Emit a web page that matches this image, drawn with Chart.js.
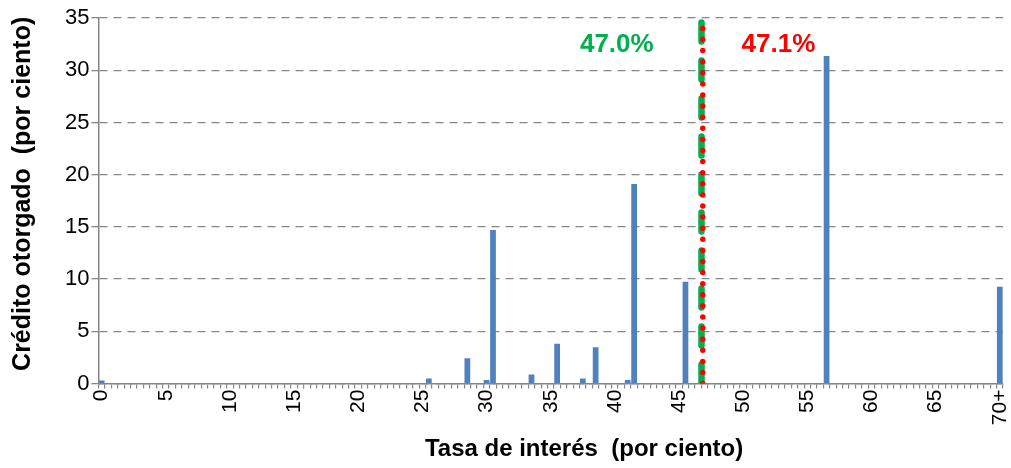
<!DOCTYPE html>
<html lang="es">
  <head>
    <meta charset="UTF-8" />
    <title>Crédito otorgado por tasa de interés</title>
    <script src="https://cdn.jsdelivr.net/npm/chart.js@4/dist/chart.umd.min.js"></script>
    <style>
      body { margin: 0; background: #fff; }
      #wrap { width: 1011px; height: 468px; }
    </style>
  </head>
  <body>
    <div id="wrap"><canvas id="rateChart"></canvas></div>
  </body>
  <script>
    // tasa de interés en pasos de 0.5 puntos, la última es "70+"
    const rates = [];
    for (let r = 0; r <= 70; r += 0.5) rates.push(r);

    const tickLabels = ["0", "5", "10", "15", "20", "25", "30", "35", "40", "45", "50", "55", "60", "65", "70+"];

    // crédito otorgado (por ciento), una fila por cada 5 puntos de tasa
    const credit = [
      0.3, 0.06, 0.06, 0.06, 0.06, 0.06, 0.06, 0.06, 0.06, 0.06, // 0 - 4.5
      0, 0, 0.06, 0.06, 0.06, 0.06, 0, 0, 0, 0,                // 5 - 9.5
      0, 0.06, 0.06, 0.06, 0.06, 0, 0, 0, 0, 0,                // 10 - 14.5
      0, 0, 0, 0, 0, 0, 0, 0, 0, 0,                            // 15 - 19.5
      0, 0, 0, 0, 0, 0, 0, 0, 0, 0,                            // 20 - 24.5
      0, 0.48, 0, 0, 0, 0, 0, 2.42, 0, 0,                      // 25 - 29.5
      0.35, 14.7, 0, 0, 0, 0, 0, 0.86, 0, 0,                   // 30 - 34.5
      0, 3.82, 0, 0, 0, 0.48, 0, 3.47, 0, 0,                   // 35 - 39.5
      0, 0, 0.35, 19.1, 0, 0, 0, 0, 0, 0,                      // 40 - 44.5
      0, 9.75, 0, 0, 0, 0, 0, 0, 0, 0,                         // 45 - 49.5
      0, 0, 0, 0, 0, 0, 0, 0, 0, 0,                            // 50 - 54.5
      0, 0, 0, 31.35, 0, 0, 0, 0, 0, 0,                        // 55 - 59.5
      0, 0, 0, 0, 0, 0, 0, 0, 0, 0,                            // 60 - 64.5
      0, 0, 0, 0, 0, 0, 0, 0, 0, 0,                            // 65 - 69.5
      9.27                                                     // 70+
    ];

    // tasas promedio marcadas con líneas verticales
    const avgRates = [47.0, 47.1];
    const avgLabels = ["47.0%", "47.1%"];
    const avgColors = ["#00B050", "#FF0000"];

    const FONT = "'Liberation Sans', Arial, sans-serif";
    const GRAY = "#868686";

    const avgText = {
      id: "avgText",
      afterDatasetsDraw(chart) {
        const ctx = chart.ctx;
        const x2 = chart.scales.x2;
        const y = chart.scales.y;
        const shift = [-6.6, 5.9];
        ctx.save();
        ctx.font = "bold 26px " + FONT;
        ctx.textAlign = "center";
        ctx.textBaseline = "middle";
        avgRates.forEach((r, i) => {
          ctx.fillStyle = avgColors[i];
          ctx.fillText(avgLabels[i], x2.getPixelForValue(r + shift[i]), y.getPixelForValue(32.4));
        });
        ctx.restore();
      },
    };

    // sin relleno extra a los lados de las escalas
    const noPad = (scale) => {
      scale.paddingLeft = 0;
      scale.paddingRight = 0;
      scale.paddingTop = 0;
      scale.paddingBottom = 0;
    };

    const ctx = document.getElementById("rateChart").getContext("2d");
    const rateChart = new Chart(ctx, {
      type: "bar",
      data: {
        labels: rates,
        datasets: [
          {
            data: credit,
            backgroundColor: "#4F81BD",
            grouped: false,
            barPercentage: 1.12,
            order: 3,
          },
          {
            type: "line",
            xAxisID: "x2",
            data: [{x: avgRates[0], y: 0}, {x: avgRates[0], y: 35}],
            borderColor: avgColors[0],
            borderWidth: 6.5,
            borderDash: [19, 19],
            borderCapStyle: "round",
            pointRadius: 0,
            order: 2,
          },
          {
            type: "line",
            xAxisID: "x2",
            data: [{x: avgRates[1], y: 0}, {x: avgRates[1], y: 35}],
            borderColor: avgColors[1],
            borderWidth: 5.5,
            borderDash: [0, 11.1],
            borderCapStyle: "round",
            pointRadius: 0,
            order: 1,
          },
        ],
      },
      options: {
        responsive: true,
        maintainAspectRatio: false,
        animation: false,
        layout: {padding: {left: 0, right: 8, top: 18, bottom: 1}},
        plugins: {legend: {display: false}, tooltip: {enabled: false}},
        scales: {
          x: {
            offset: true,
            afterFit: noPad,
            grid: {offset: true, drawOnChartArea: false, drawTicks: true, tickLength: 5, color: GRAY, lineWidth: 1.2},
            border: {color: GRAY, width: 1.5},
            ticks: {
              autoSkip: false,
              maxRotation: 90,
              minRotation: 90,
              padding: 1,
              color: "#000",
              font: {family: FONT, size: 21},
              callback: (v, i) => (i % 10 === 0 ? tickLabels[i / 10] : ""),
            },
            title: {
              display: true,
              text: "          Tasa de interés  (por ciento)",
              color: "#000",
              font: {family: FONT, size: 24, weight: "bold"},
              padding: {top: 9, bottom: 3},
            },
          },
          x2: {type: "linear", min: 0, max: 70.5, offset: false, display: false},
          y: {
            min: 0,
            max: 35,
            afterFit: noPad,
            ticks: {stepSize: 5, color: "#000", font: {family: FONT, size: 22}, padding: 2},
            grid: {color: GRAY, lineWidth: 1.3, tickLength: 7, tickBorderDash: []},
            border: {color: GRAY, width: 1.5, dash: [8, 6]},
            title: {
              display: true,
              text: "  Crédito otorgado  (por ciento)",
              color: "#000",
              font: {family: FONT, size: 25, weight: "bold"},
              padding: {top: 8, bottom: 25},
            },
          },
        },
      },
      plugins: [avgText],
    });
  </script>
</html>
